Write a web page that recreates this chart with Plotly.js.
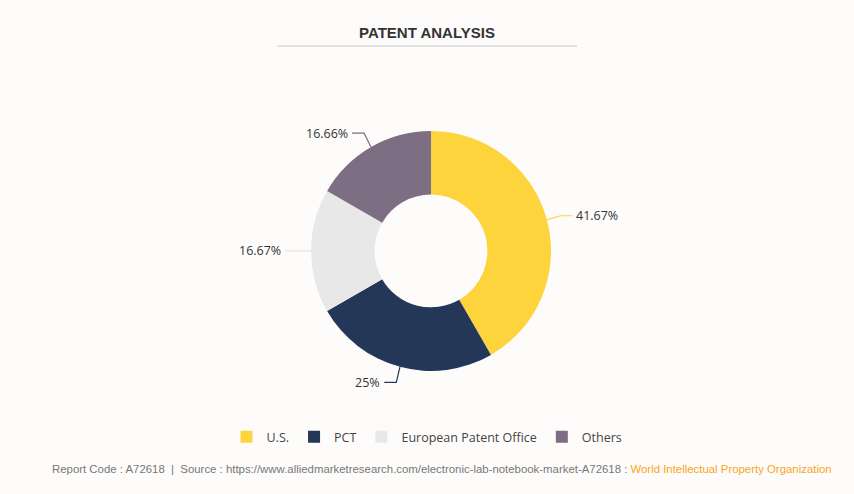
<!DOCTYPE html>
<html><head><meta charset="utf-8">
<script src="https://cdn.plot.ly/plotly-3.0.1.min.js"></script>
<style>body{margin:0;background:#fdfcfb}</style>
</head><body>
<div id="chart" style="width:854px;height:494px"></div>
<script>
const categories = ["U.S.", "PCT", "European Patent Office", "Others"];
const shares = [41.67, 25, 16.67, 16.66];
const labelsText = ["41.67%", "25%", "16.67%", "16.66%"];
const colors = ["#fdd43c", "#243759", "#e8e8e8", "#7d6e83"];

const W = 854, H = 494;
const dom = {x: [0.3642, 0.6452], y: [0.249, 0.735]};
const cx = (dom.x[0] + dom.x[1]) / 2 * W;
const cy = (1 - (dom.y[0] + dom.y[1]) / 2) * H;
const R = Math.min((dom.x[1] - dom.x[0]) * W, (dom.y[1] - dom.y[0]) * H) / 2;

const trace = {
  type: "pie",
  labels: categories,
  values: shares,
  textinfo: "none",
  sort: false,
  direction: "clockwise",
  rotation: 0,
  hole: 0.47,
  marker: {colors: colors, line: {width: 0}},
  domain: dom,
  hoverinfo: "label+percent"
};

// leader lines + labels derived from the data values
const total = shares.reduce((a, b) => a + b, 0);
const shapes = [{
  type: "line", xref: "paper", yref: "paper",
  x0: 277/W, x1: 577/W, y0: 1 - 46/H, y1: 1 - 46/H,
  line: {color: "#c8c8c8", width: 1}
}];
const annotations = [];
let acc = 0;
const px = x => x / W, py = y => 1 - y / H;
shares.forEach((v, i) => {
  const mid = (acc + v / 2) / total * 2 * Math.PI;
  acc += v;
  const sx = Math.sin(mid), sy = -Math.cos(mid);
  const x0 = cx + R * sx, y0 = cy + R * sy;
  const x1 = cx + (R + 14) * sx, y1 = cy + (R + 16) * sy;
  const side = sx >= 0 ? 1 : -1;
  const x2 = x1 + side * 12;
  shapes.push({
    type: "path", xref: "paper", yref: "paper",
    path: `M ${px(x0)} ${py(y0)} L ${px(x1)} ${py(y1)} L ${px(x2)} ${py(y1)}`,
    line: {color: colors[i] === "#e8e8e8" ? "#e4e4e4" : colors[i], width: 1.2}
  });
  annotations.push({
    xref: "paper", yref: "paper", x: px(x2 + side * 2), y: py(y1),
    xanchor: side > 0 ? "left" : "right", yanchor: "middle",
    showarrow: false, text: labelsText[i],
    font: {family: "Open Sans, Noto Sans, sans-serif", size: 12.5, color: "#333"}
  });
});

annotations.push({
  xref: "paper", yref: "paper", x: 442/W, y: 1 - 469/H, xanchor: "center", yanchor: "middle",
  showarrow: false,
  text: "Report Code : A72618  |  Source : https://www.alliedmarketresearch.com/electronic-lab-notebook-market-A72618 : <span style='color:#f9a51a'>World Intellectual Property Organization</span>",
  font: {family: "Liberation Sans, Arial, sans-serif", size: 11.4, color: "#777777"}
});

const layout = {
  width: W, height: H,
  margin: {l: 0, r: 0, t: 0, b: 0},
  paper_bgcolor: "#fdfcfb",
  plot_bgcolor: "#fdfcfb",
  showlegend: true,
  legend: {
    orientation: "h", x: 0.5, xanchor: "center", y: 0.115, yanchor: "middle",
    font: {family: "Open Sans, Noto Sans, sans-serif", size: 12.5, color: "#444"},
    itemwidth: 30, traceorder: "normal"
  },
  title: {
    text: "<b>PATENT ANALYSIS</b>",
    x: 0.5, xanchor: "center", y: 0.933, yanchor: "middle",
    font: {family: "Liberation Sans, Arial, sans-serif", size: 15, color: "#333"}
  },
  shapes: shapes,
  annotations: annotations
};

Plotly.newPlot("chart", [trace], layout, {displayModeBar: false});
</script>
</body></html>
